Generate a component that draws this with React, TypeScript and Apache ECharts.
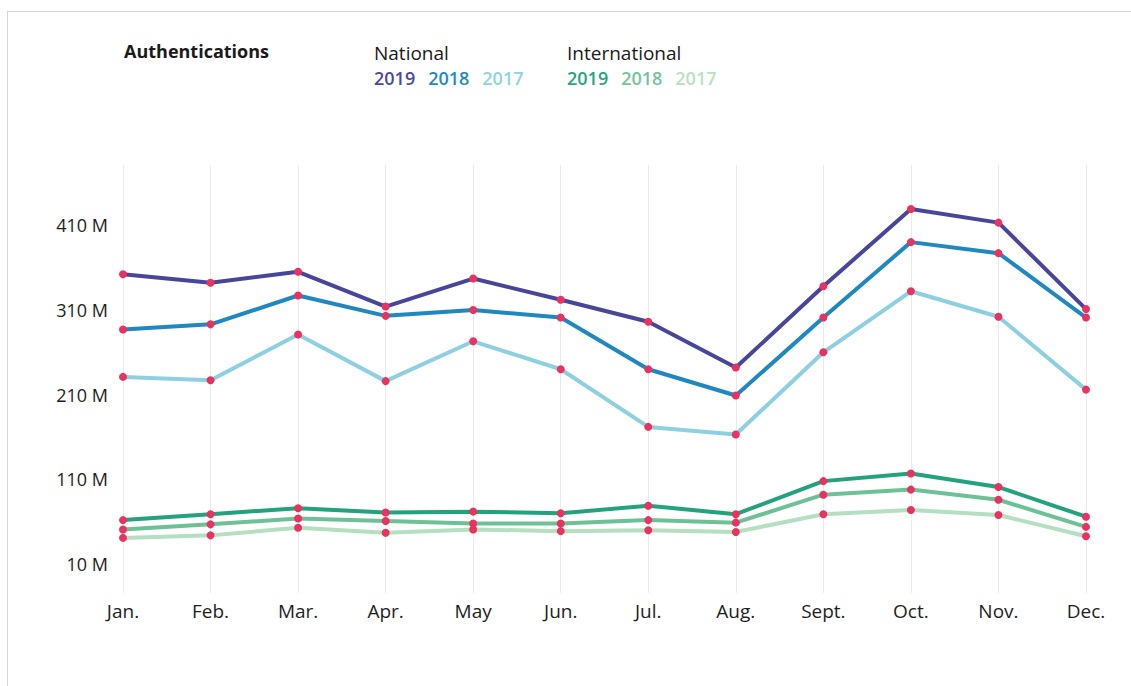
import React, { useEffect, useRef } from "react";
import * as echarts from "echarts";

const months = ["Jan.", "Feb.", "Mar.", "Apr.", "May", "Jun.", "Jul.", "Aug.", "Sept.", "Oct.", "Nov.", "Dec."];
const yTickValues = [10, 110, 210, 310, 410];

const national2019 = [352, 342, 355, 314, 347, 322, 296, 242, 338, 429, 413, 311];
const national2018 = [287, 293, 327, 303, 310, 301, 240, 209, 301, 390, 377, 301];
const national2017 = [231, 227, 281, 226, 273, 240, 172, 163, 260, 332, 302, 216];
const international2019 = [62, 69, 76, 71, 72, 70, 79, 69, 108, 117, 101, 66];
const international2018 = [51, 57, 64, 61, 58, 58, 62, 59, 92, 98, 86, 54];
const international2017 = [41, 44, 53, 47, 51, 49, 50, 48, 69, 74, 68, 43];

const FONT = "Open Sans";
const DOT = "#e8325f";

const seriesDefs = [
  { name: "International 2017", data: international2017, color: "#b4dfc0" },
  { name: "International 2018", data: international2018, color: "#6ec197" },
  { name: "International 2019", data: international2019, color: "#23a27e" },
  { name: "National 2017", data: national2017, color: "#8dd0e0" },
  { name: "National 2018", data: national2018, color: "#1f88c0" },
  { name: "National 2019", data: national2019, color: "#47469b" },
];

export default function App() {
  const ref = useRef<HTMLDivElement>(null);
  useEffect(() => {
    const chart = echarts.init(ref.current!, null, { renderer: "svg" });
    const yearRich = (c1: string, c2: string, c3: string) => ({
      a: { fill: c1, fontSize: 18, fontWeight: 600, fontFamily: FONT },
      b: { fill: c2, fontSize: 18, fontWeight: 600, fontFamily: FONT },
      c: { fill: c3, fontSize: 18, fontWeight: 600, fontFamily: FONT },
      s: { fontSize: 18, fontFamily: FONT, width: 13 },
    });
    chart.setOption({
      animation: false,
      backgroundColor: "#ffffff",
      grid: { left: 123, right: 45, top: 165, bottom: 93, containLabel: false },
      xAxis: {
        type: "category",
        data: months,
        boundaryGap: false,
        axisLine: { show: false },
        axisTick: { show: false },
        axisLabel: { color: "#1e1e1e", fontSize: 19, fontFamily: FONT, margin: 8 },
        splitLine: { show: true, lineStyle: { color: "#ebebeb", width: 1 } },
      },
      yAxis: {
        type: "value",
        min: -24,
        max: 481,
        axisLine: { show: false },
        axisTick: { show: false },
        splitLine: { show: false },
        axisLabel: {
          customValues: yTickValues,
          color: "#1e1e1e",
          fontSize: 18,
          fontFamily: FONT,
          margin: 15,
          formatter: (v: number) => `${v} M`,
        },
      },
      series: seriesDefs.map((s) => ({
        name: s.name,
        type: "line",
        data: s.data,
        symbol: "circle",
        symbolSize: 8,
        showSymbol: true,
        lineStyle: { color: s.color, width: 4 },
        itemStyle: { color: DOT, borderWidth: 0 },
        z: 3,
      })),
      graphic: [
        { type: "line", shape: { x1: 7, y1: 11.5, x2: 1131, y2: 11.5 }, style: { stroke: "#d6d6d6", lineWidth: 1 } },
        { type: "line", shape: { x1: 7.5, y1: 11, x2: 7.5, y2: 686 }, style: { stroke: "#d6d6d6", lineWidth: 1 } },
        {
          type: "text",
          left: 124,
          top: 42,
          style: { text: "Authentications", fontSize: 18, fontWeight: "bold", fontFamily: FONT, fill: "#1a1a1a" },
        },
        {
          type: "text",
          left: 374,
          top: 43,
          style: { text: "National", fontSize: 19, fontFamily: FONT, fill: "#1a1a1a" },
        },
        {
          type: "text",
          left: 374,
          top: 69,
          style: {
            text: "{a|2019}{s| }{b|2018}{s| }{c|2017}",
            fontSize: 18,
            fontFamily: FONT,
            rich: yearRich("#4a49a0", "#2489c3", "#8fd3e4"),
          },
        },
        {
          type: "text",
          left: 567,
          top: 43,
          style: { text: "International", fontSize: 19, fontFamily: FONT, fill: "#1a1a1a" },
        },
        {
          type: "text",
          left: 567,
          top: 69,
          style: {
            text: "{a|2019}{s| }{b|2018}{s| }{c|2017}",
            fontSize: 18,
            fontFamily: FONT,
            rich: yearRich("#26a380", "#74c49b", "#b7e1c3"),
          },
        },
      ],
    });
    return () => chart.dispose();
  }, []);
  return (
    <div
      ref={ref}
      style={{ position: "fixed", left: 0, top: 0, width: 1131, height: 686 }}
    />
  );
}
